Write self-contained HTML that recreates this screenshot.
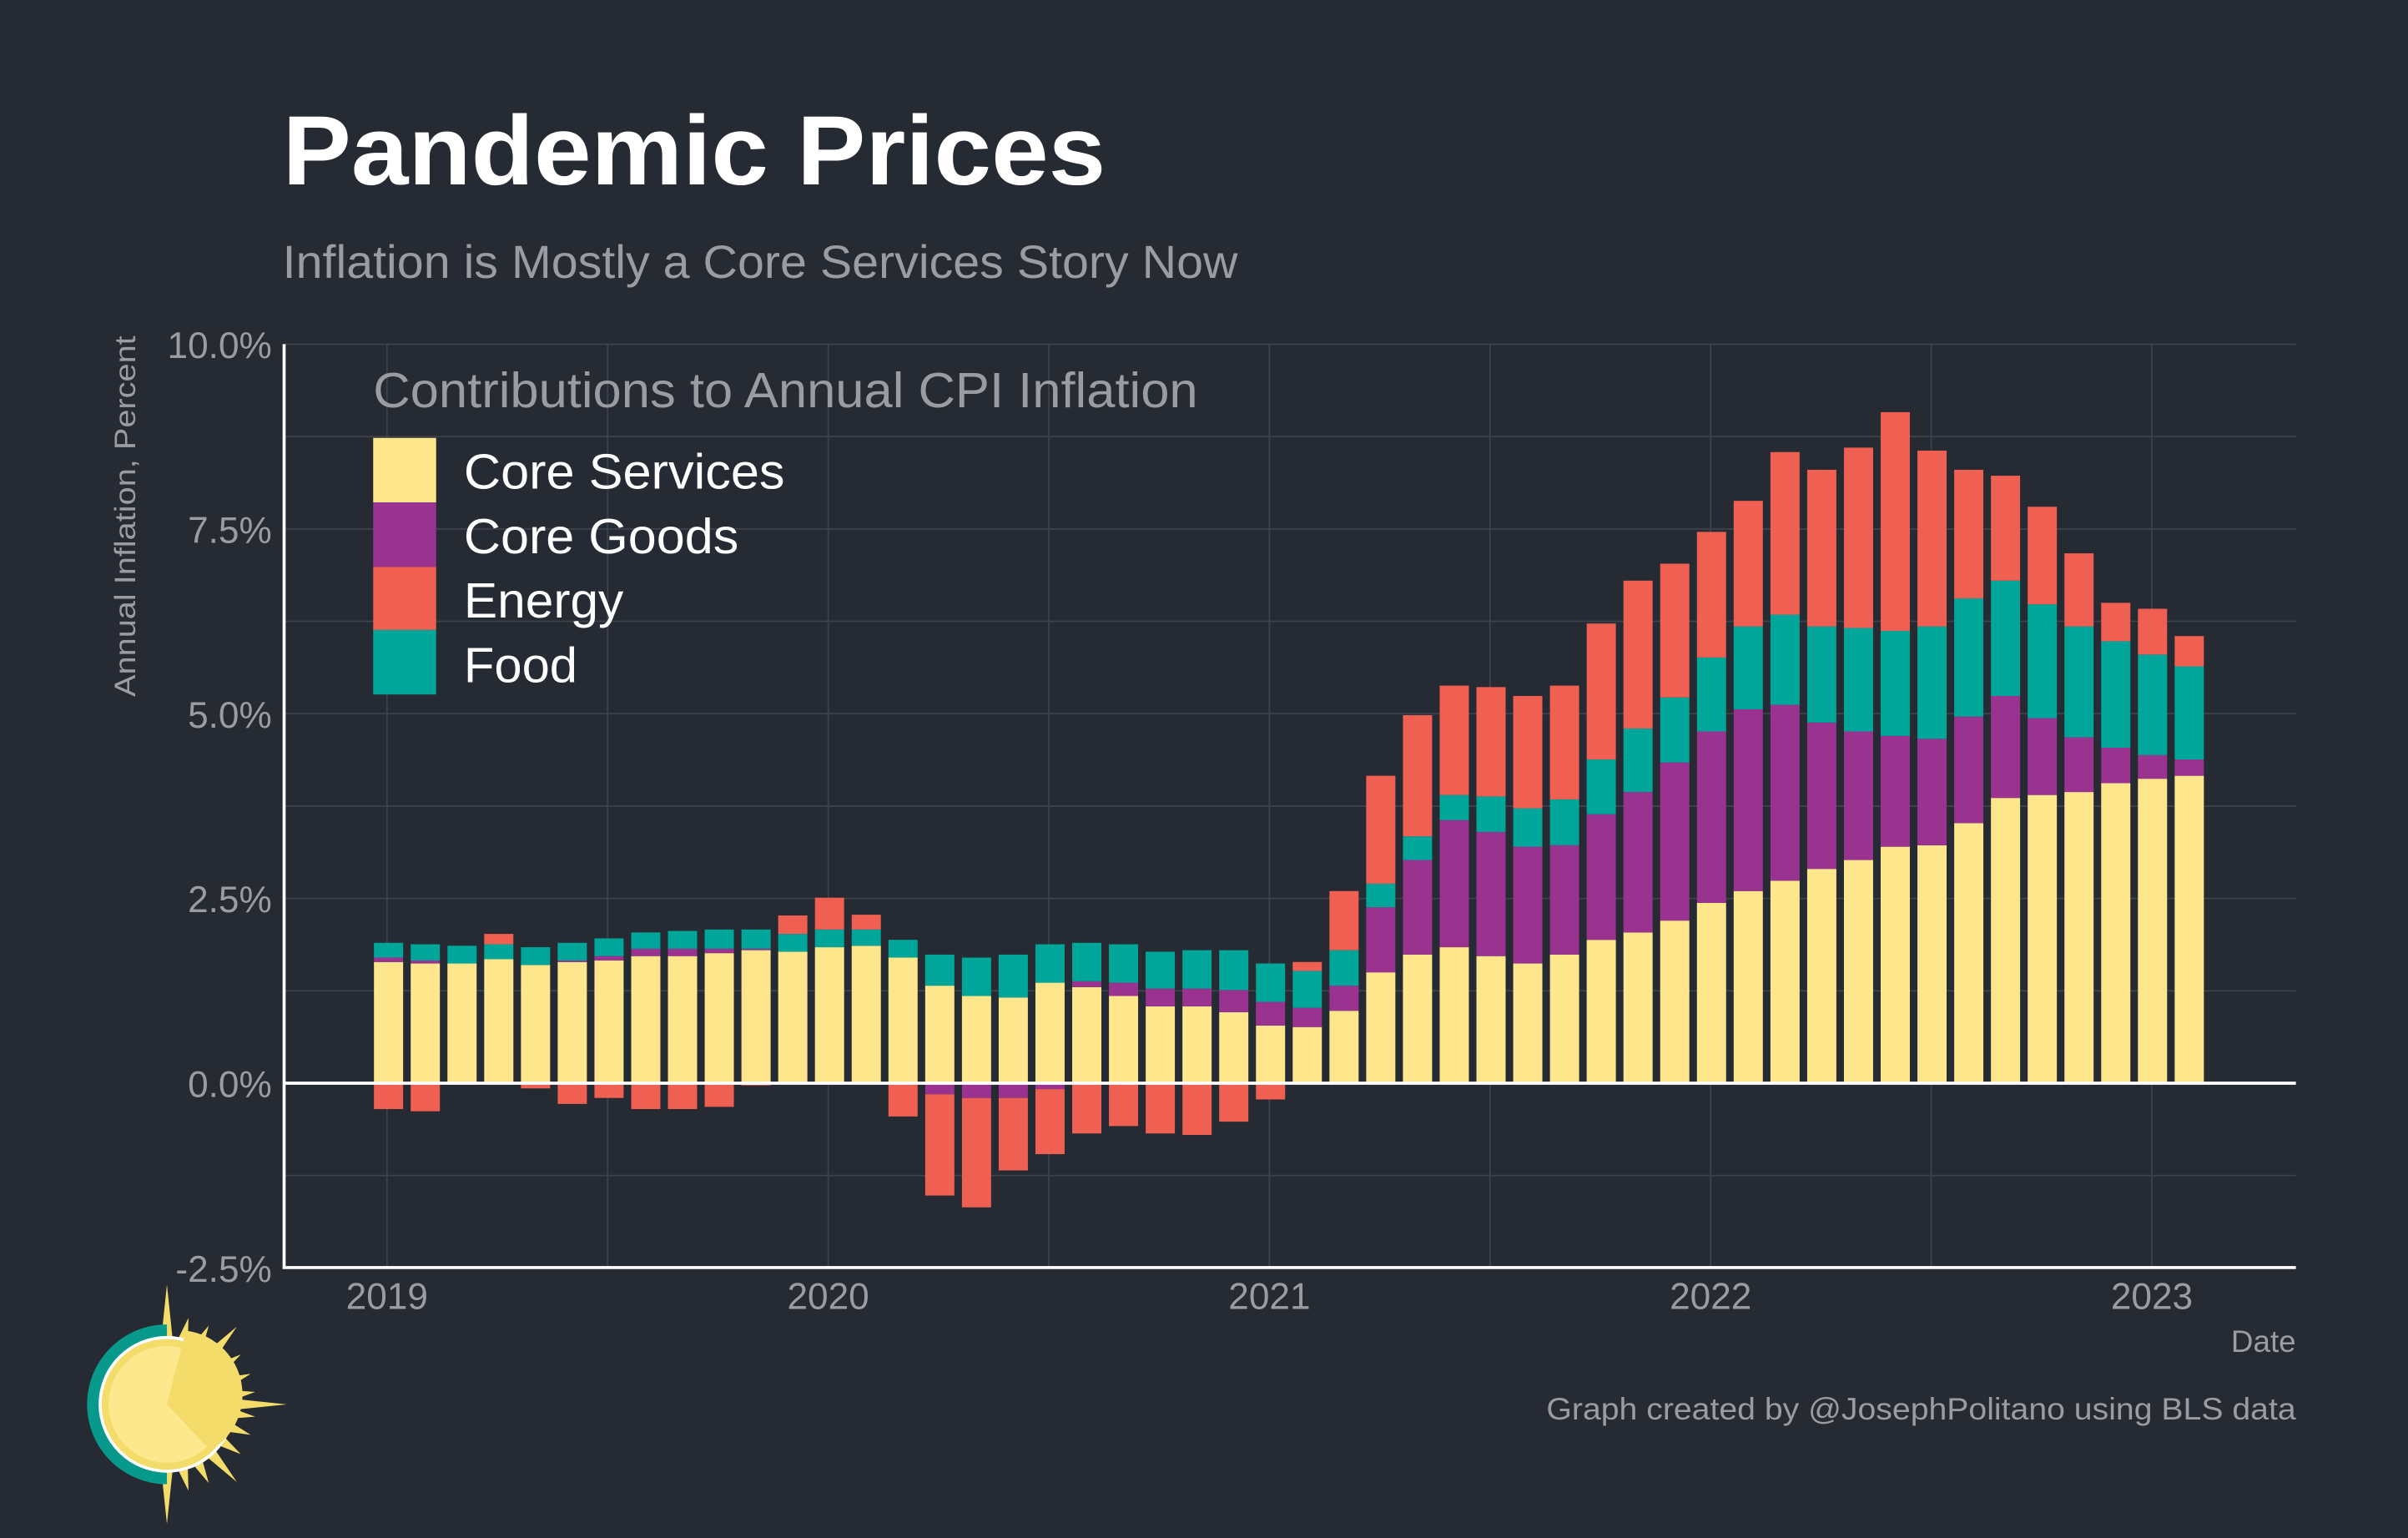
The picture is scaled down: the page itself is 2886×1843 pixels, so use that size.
<!DOCTYPE html>
<html><head><meta charset="utf-8"><style>
html,body{margin:0;padding:0;background:#252a33;}
svg{display:block;}
text{font-family:"Liberation Sans",Arial,sans-serif;}
</style></head><body>
<svg id="chart" width="2886" height="1843" viewBox="0 0 1568 1001" preserveAspectRatio="none" xmlns="http://www.w3.org/2000/svg">
<rect width="1568" height="1001" fill="#252a33"/>
<text x="184" y="120" font-size="64" font-weight="bold" fill="#ffffff" textLength="536" lengthAdjust="spacingAndGlyphs">Pandemic Prices</text>
<text x="184" y="181" font-size="30" fill="#9a9ca1" textLength="622" lengthAdjust="spacingAndGlyphs">Inflation is Mostly a Core Services Story Now</text>
<g id="grid"></g>
<g id="bars"></g>
<g id="axes"></g>
<text transform="translate(88,336) rotate(-90)" text-anchor="middle" font-size="19" fill="#9a9ca1" textLength="235" lengthAdjust="spacingAndGlyphs">Annual Inflation, Percent</text>
<text x="1495" y="880" text-anchor="end" font-size="20" fill="#9a9ca1">Date</text>
<text x="1007" y="924" font-size="20" fill="#9a9ca1" textLength="488" lengthAdjust="spacingAndGlyphs">Graph created by @JosephPolitano using BLS data</text>
<g>
<text x="243" y="265" font-size="32" fill="#9a9ca1" textLength="537" lengthAdjust="spacingAndGlyphs">Contributions to Annual CPI Inflation</text>
<rect x="243" y="285" width="41" height="42" fill="#fee68d"/>
<rect x="243" y="327" width="41" height="42" fill="#9a3290"/>
<rect x="243" y="369" width="41" height="41" fill="#ef5f52"/>
<rect x="243" y="410" width="41" height="42" fill="#00a69a"/>
<text x="302" y="318" font-size="32" fill="#ffffff" textLength="209" lengthAdjust="spacingAndGlyphs">Core Services</text>
<text x="302" y="360" font-size="32" fill="#ffffff" textLength="179" lengthAdjust="spacingAndGlyphs">Core Goods</text>
<text x="302" y="402" font-size="32" fill="#ffffff" textLength="104" lengthAdjust="spacingAndGlyphs">Energy</text>
<text x="302" y="444" font-size="32" fill="#ffffff" textLength="74" lengthAdjust="spacingAndGlyphs">Food</text>
</g>
<g>
<g id="rays" fill="#f3dc6a"></g>
<path d="M108.7,862 A51.6,51.6 0 0 0 108.7,966 Z" fill="#079a8c"/>
<circle cx="108.7" cy="914" r="44.5" fill="#ffffff"/>
<circle cx="108.7" cy="914" r="42.5" fill="#f3dc6a"/>
<circle cx="108.7" cy="914" r="38" fill="#fde88e"/>
<path d="M108.7,914 L121,866 A42,42 0 0 1 137,944 Z" fill="#f3dc6a"/>
</g>
</svg>
<script>
const months = ["2019-01","2019-02","2019-03","2019-04","2019-05","2019-06","2019-07","2019-08","2019-09","2019-10","2019-11","2019-12","2020-01","2020-02","2020-03","2020-04","2020-05","2020-06","2020-07","2020-08","2020-09","2020-10","2020-11","2020-12","2021-01","2021-02","2021-03","2021-04","2021-05","2021-06","2021-07","2021-08","2021-09","2021-10","2021-11","2021-12","2022-01","2022-02","2022-03","2022-04","2022-05","2022-06","2022-07","2022-08","2022-09","2022-10","2022-11","2022-12","2023-01","2023-02"];
const coreServices = [1.64,1.62,1.62,1.68,1.6,1.64,1.66,1.72,1.72,1.76,1.8,1.78,1.84,1.86,1.7,1.32,1.18,1.16,1.36,1.3,1.18,1.04,1.04,0.96,0.78,0.76,0.98,1.5,1.74,1.84,1.72,1.62,1.74,1.94,2.04,2.2,2.44,2.6,2.74,2.9,3.02,3.2,3.22,3.52,3.86,3.9,3.94,4.06,4.12,4.16];
const coreGoods = [0.06,0.04,0,0,-0.02,0.02,0.06,0.1,0.1,0.06,0.02,0,-0.02,0,0,-0.15,-0.2,-0.2,-0.08,0.08,0.18,0.24,0.24,0.3,0.32,0.26,0.34,0.88,1.28,1.72,1.68,1.58,1.48,1.7,1.9,2.14,2.32,2.46,2.38,1.98,1.74,1.5,1.44,1.44,1.38,1.04,0.74,0.48,0.32,0.22];
const food = [0.2,0.22,0.24,0.2,0.24,0.24,0.24,0.22,0.24,0.26,0.26,0.24,0.24,0.22,0.24,0.42,0.52,0.58,0.52,0.52,0.52,0.5,0.52,0.54,0.52,0.5,0.48,0.32,0.32,0.34,0.48,0.52,0.62,0.74,0.86,0.88,1.0,1.12,1.22,1.3,1.4,1.42,1.52,1.6,1.56,1.54,1.5,1.44,1.36,1.26];
const energy = [-0.35,-0.38,-0.02,0.14,-0.05,-0.28,-0.2,-0.35,-0.35,-0.32,-0.03,0.25,0.43,0.2,-0.45,-1.37,-1.48,-0.98,-0.88,-0.68,-0.58,-0.68,-0.7,-0.52,-0.22,0.12,0.8,1.46,1.64,1.48,1.48,1.52,1.54,1.84,2.0,1.81,1.7,1.7,2.2,2.12,2.44,2.96,2.38,1.74,1.42,1.32,0.99,0.52,0.62,0.41];
const yTicks = [-2.5,0,2.5,5,7.5,10];
const yTickLabels = ["-2.5%","0.0%","2.5%","5.0%","7.5%","10.0%"];
const xTickYears = [2019,2020,2021,2022,2023];

const NS="http://www.w3.org/2000/svg";
const X0=185,X1=1495,Ytop=224,Ybot=825;
function y(v){return 705 - v*48.1;}
function xm(i){return 253 + i*23.93;}
function xYear(yr){return 252 + (yr-2019)*287.3;}
function mk(tag,attrs,parent){const e=document.createElementNS(NS,tag);for(const k in attrs)e.setAttribute(k,attrs[k]);parent.appendChild(e);return e;}
const grid=document.getElementById('grid');
for(let v=-2.5; v<=10.01; v+=1.25){
  const l=mk('line',{x1:X0,x2:X1,y1:y(v),y2:y(v),stroke:'#3c414a','stroke-width':1},grid);
  
  
}
for(let yr=2019; yr<=2023; yr+=0.5){
  const l=mk('line',{x1:xYear(yr),x2:xYear(yr),y1:Ytop,y2:Ybot,stroke:'#3c414a','stroke-width':1},grid);
  
  
}
const bars=document.getElementById('bars');
const W=19;
function bar(i,a,b,color,name){
  const r=mk('rect',{x:xm(i)-W/2,y:Math.min(y(a),y(b)),width:W,height:Math.abs(y(a)-y(b)),fill:color},bars);
  
  
}
months.forEach((m,i)=>{
  let pos=0,neg=0;
  const series=[[coreServices[i],'#fee68d','bar-core-services'],[coreGoods[i],'#9a3290','bar-core-goods'],[food[i],'#00a69a','bar-food'],[energy[i],'#ef5f52','bar-energy']];
  series.forEach(([v,c,n])=>{
    if(v>=0){bar(i,pos,pos+v,c,n);pos+=v;}
    else{bar(i,neg,neg+v,c,n);neg+=v;}
  });
});
const axes=document.getElementById('axes');
let z=mk('line',{x1:X0,x2:X1,y1:y(0),y2:y(0),stroke:'#ffffff','stroke-width':2},axes);


let ax=mk('path',{d:`M${X0},${Ytop} L${X0},${Ybot} L${X1},${Ybot}`,fill:'none',stroke:'#ffffff','stroke-width':2},axes);


yTicks.forEach((v,i)=>{
  const t=mk('text',{x:177,y:y(v)+9,'text-anchor':'end','font-size':24,fill:'#9a9ca1'},axes);
  t.textContent=yTickLabels[i];
  
  
});
xTickYears.forEach(yr=>{
  const t=mk('text',{x:xYear(yr),y:852,'text-anchor':'middle','font-size':24,fill:'#9a9ca1'},axes);
  t.textContent=String(yr);
  
  
});
const rays=document.getElementById('rays');
const cx=108.7,cy=914;
const angs=[-90,-76,-62,-48,-34,-20,-8,0,8,20,34,48,62,76,90];
angs.forEach((a)=>{
  const L=(a===-90||a===90||a===0)?78:(Math.abs(a)===48?68:58);
  const r=a*Math.PI/180,w=0.1;
  const p=[[cx+L*Math.cos(r),cy+L*Math.sin(r)],[cx+40*Math.cos(r-w),cy+40*Math.sin(r-w)],[cx+40*Math.cos(r+w),cy+40*Math.sin(r+w)]];
  mk('polygon',{points:p.map(q=>q.join(',')).join(' ')},rays);
});
</script>
</body></html>
